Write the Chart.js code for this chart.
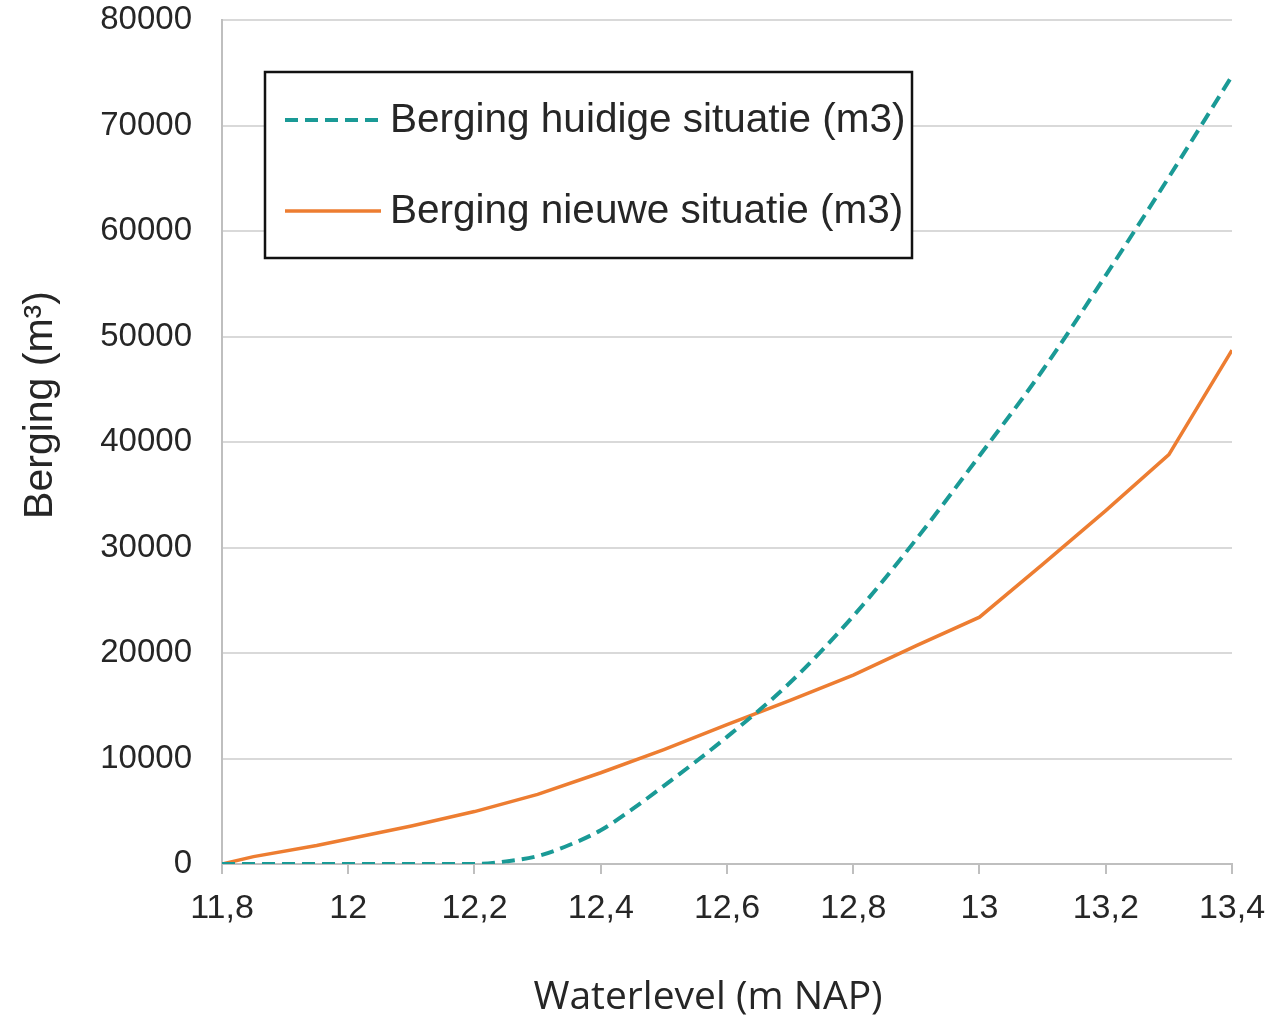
<!DOCTYPE html>
<html>
<head>
<meta charset="utf-8">
<script src="https://cdn.jsdelivr.net/npm/chart.js@4"></script>
<style>
  body { margin: 0; background: #fff; }
  #wrap { width: 1281px; height: 1024px; }
</style>
</head>
<body>
<div id="wrap"><canvas id="berging"></canvas></div>
<script>
// waterlevel (m NAP) en berging (m3)
const huidigLevel = [11.8, 12.0, 12.2, 12.25, 12.3, 12.35, 12.4, 12.45, 12.5, 12.6, 12.7, 12.8, 12.9, 13.0, 13.1, 13.2, 13.3, 13.4];
const huidigBerging = [0, 0, 0, 250, 750, 1800, 3200, 5200, 7400, 12050, 17200, 23500, 30800, 38700, 46800, 55800, 65100, 74700];

const nieuwLevel = [11.8, 11.85, 11.95, 12.1, 12.2, 12.3, 12.4, 12.5, 12.6, 12.7, 12.8, 12.9, 13.0, 13.1, 13.2, 13.3, 13.4];
const nieuwBerging = [0, 700, 1750, 3600, 4970, 6600, 8650, 10850, 13200, 15500, 17900, 20700, 23400, 28400, 33500, 38800, 48700];

const xTicks = [11.8, 12.0, 12.2, 12.4, 12.6, 12.8, 13.0, 13.2, 13.4];
const yTicks = [0, 10000, 20000, 30000, 40000, 50000, 60000, 70000, 80000];

const xTitel = "Waterlevel (m NAP)";
const yTitel = "Berging (m³)";

const tekst = "#262626";
const font = "'Liberation Sans', Arial, sans-serif";

function punten(xs, ys) {
  return xs.map((x, i) => ({ x: x, y: ys[i] }));
}

// legenda met kader binnen de grafiek, plus de astitels
const legendaKader = {
  id: "legendaKader",
  afterDatasetsDraw(chart) {
    const ctx = chart.ctx;
    const x0 = 265, y0 = 72, w = 647, h = 186;
    ctx.save();
    ctx.fillStyle = "#fff";
    ctx.fillRect(x0, y0, w, h);
    ctx.lineWidth = 2.5;
    ctx.strokeStyle = "#111";
    ctx.strokeRect(x0, y0, w, h);
    const rijen = [120, 211];
    chart.data.datasets.forEach((ds, i) => {
      const y = rijen[i];
      ctx.beginPath();
      ctx.strokeStyle = ds.borderColor;
      ctx.lineWidth = ds.borderWidth;
      ctx.setLineDash(ds.borderDash || []);
      ctx.moveTo(285, y);
      ctx.lineTo(381, y);
      ctx.stroke();
      ctx.setLineDash([]);
      ctx.fillStyle = tekst;
      ctx.font = "40.5px " + font;
      ctx.textBaseline = "middle";
      ctx.textAlign = "left";
      ctx.fillText(ds.label, 390, y + 1);
    });

    ctx.fillStyle = tekst;
    ctx.textAlign = "center";
    ctx.textBaseline = "middle";
    ctx.font = "39px 'Open Sans', sans-serif";
    ctx.fillText(xTitel, 708, 998);

    ctx.translate(41, 405);
    ctx.rotate(-Math.PI / 2);
    ctx.font = "41px " + font;
    ctx.fillText(yTitel, 0, 0);
    ctx.restore();
  },
};

new Chart(document.getElementById("berging"), {
  type: "line",
  data: {
    datasets: [
      {
        label: "Berging huidige situatie (m3)",
        data: punten(huidigLevel, huidigBerging),
        borderColor: "#1a9a96",
        borderWidth: 4,
        borderDash: [13, 7],
        pointRadius: 0,
        cubicInterpolationMode: "monotone",
      },
      {
        label: "Berging nieuwe situatie (m3)",
        data: punten(nieuwLevel, nieuwBerging),
        borderColor: "#ed7d31",
        borderWidth: 3.5,
        pointRadius: 0,
        tension: 0,
      },
    ],
  },
  options: {
    responsive: true,
    maintainAspectRatio: false,
    animation: false,
    layout: { padding: { top: 20, right: 49, left: 0, bottom: 0 } },
    plugins: {
      legend: { display: false },
      tooltip: { enabled: false },
    },
    scales: {
      x: {
        type: "linear",
        min: 11.8,
        max: 13.4,
        afterBuildTicks: (scale) => {
          scale.ticks = xTicks.map((v) => ({ value: v }));
        },
        afterFit: (scale) => {
          scale.height = 160;
        },
        ticks: {
          color: tekst,
          font: { family: font, size: 34 },
          padding: 14,
          maxRotation: 0,
          callback: (v) => String(Math.round(v * 10) / 10).replace(".", ","),
        },
        grid: {
          drawOnChartArea: false,
          drawTicks: true,
          tickLength: 10,
          color: "#bfbfbf",
          lineWidth: 2,
        },
        border: { color: "#bfbfbf", width: 2 },
      },
      y: {
        min: 0,
        max: 80000,
        afterBuildTicks: (scale) => {
          scale.ticks = yTicks.map((v) => ({ value: v }));
        },
        afterFit: (scale) => {
          scale.width = 222;
          scale.paddingTop = 0;
          scale.paddingBottom = 0;
        },
        ticks: {
          color: tekst,
          font: { family: font, size: 33 },
          padding: 30,
          callback: (v) => String(v),
        },
        grid: {
          color: "#d9d9d9",
          lineWidth: 2,
          drawTicks: false,
        },
        border: { color: "#bfbfbf", width: 2 },
      },
    },
  },
  plugins: [legendaKader],
});
</script>
</body>
</html>
